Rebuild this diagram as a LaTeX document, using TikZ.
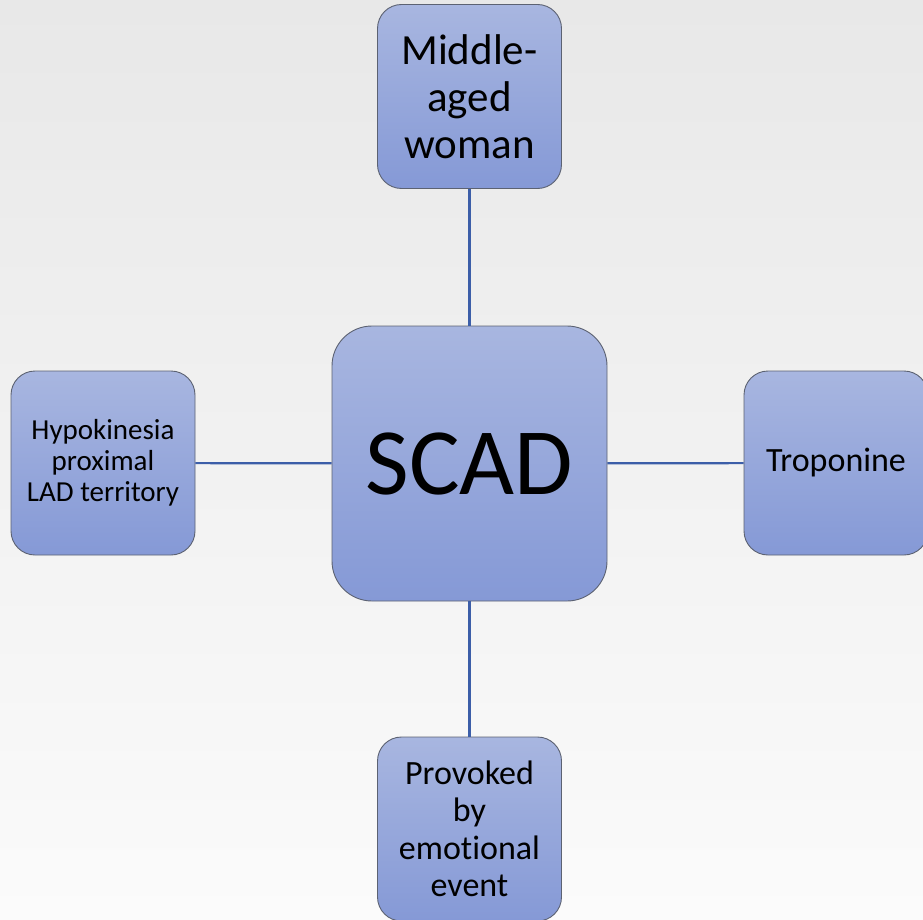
\documentclass[tikz,border=0pt]{standalone}
\usepackage{fontspec}
\setmainfont{Carlito}[Ligatures=NoCommon]

\definecolor{boxtop}{RGB}{168,182,224}
\definecolor{boxbot}{RGB}{133,153,214}
\definecolor{boxline}{RGB}{92,98,114}
\definecolor{spokeblue}{RGB}{60,94,168}
\definecolor{bgtop}{RGB}{232,232,232}
\definecolor{bgbot}{RGB}{251,251,251}

\tikzset{
    card/.style={draw=boxline,line width=0.9pt,rounded corners=24pt,top color=boxtop,bottom color=boxbot,
        minimum width=184pt,minimum height=184pt,inner sep=0pt,align=center,
        font=\fontsize{34}{37.5}\selectfont},
    hub/.style={card,rounded corners=40pt,minimum width=275pt,minimum height=275pt,font=\fontsize{95}{110}\selectfont},
    spoke/.style={draw=spokeblue,line width=2.2pt}
}

\begin{document}
\begin{tikzpicture}[x=1pt,y=-1pt]
            % \draw[help lines] grid(923,920);
            \useasboundingbox (0,0) rectangle (923,920);
            \shade[top color=bgtop,bottom color=bgbot] (0,0) rectangle (923,920);

            \node[hub] (scad) at (469.5,463.5) {SCAD};
            \node[card,font=\fontsize{43}{47}\selectfont] (woman) at (469.5,96.5) {Middle-\\aged\\woman};
            \node[card] (event) at (469.5,829) {Provoked\\by\\emotional\\event};
            \node[card,font=\fontsize{29}{31}\selectfont] (hypo) at (103,463) {Hypokinesia\\proximal\\LAD territory};
            \node[card] (tropo) at (836,463) {Troponine};

            \draw[spoke] (woman) -- (scad);
            \draw[spoke] (scad) -- (event);
            \draw[spoke] (hypo) -- (scad);
            \draw[spoke] (scad) -- (tropo);
        \end{tikzpicture}
\end{document}
